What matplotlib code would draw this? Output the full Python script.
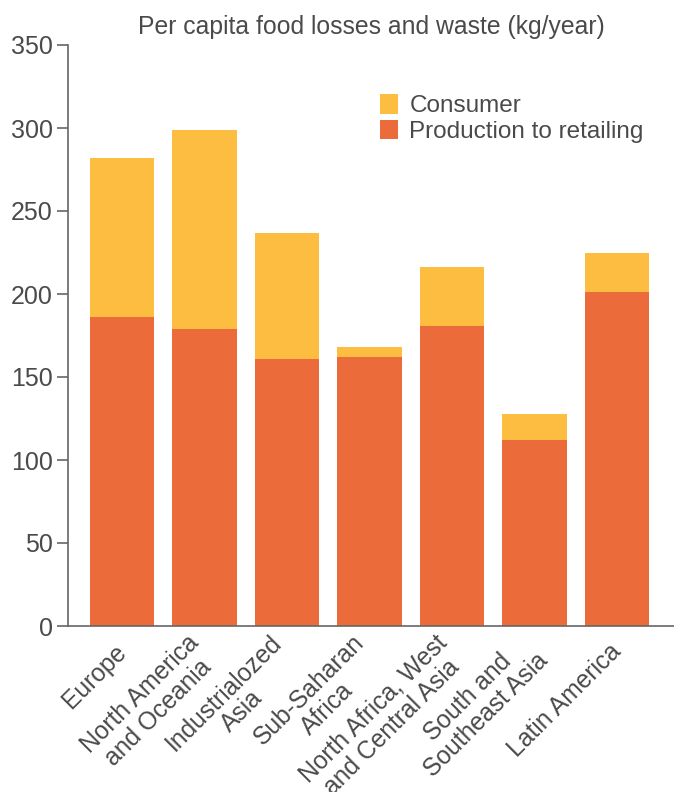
import matplotlib
matplotlib.use("Agg")
import matplotlib.pyplot as plt
import numpy as np

plt.rcParams.update({
    "font.family": ["Liberation Sans", "DejaVu Sans"],
    "axes.spines.right": False,
    "axes.spines.top": False,
})

regions = ["Europe", "North America\nand Oceania", "Industrialozed\nAsia",
           "Sub-Saharan\nAfrica", "North Africa, West\nand Central Asia",
           "South and\nSoutheast Asia", "Latin America"]
production = [186, 179, 161, 162, 181, 112, 201]
consumer = [96, 120, 76, 6, 35, 16, 24]

C_PROD = "#EC6B3B"
C_CONS = "#FDBD40"
C_TEXT = "#4a4a4a"
C_AXIS = "#666666"

fig = plt.figure(figsize=(6.74, 7.92), dpi=100)
ax = fig.add_axes([68 / 674, 166 / 792, 606 / 674, 581 / 792])

x = np.arange(len(regions))
ax.bar(x, production, width=0.78, color=C_PROD, label="Production to retailing")
ax.bar(x, consumer, width=0.78, bottom=production, color=C_CONS, label="Consumer")

ax.set_ylim(0, 350)
ax.set_xlim(-0.655, 6.69)
ax.set_yticks(range(0, 351, 50))
ax.tick_params(axis="y", labelsize=18, colors=C_AXIS, labelcolor=C_TEXT,
               length=8, width=1.2, pad=3)
ax.tick_params(axis="x", length=0, labelsize=17.7, labelcolor=C_TEXT, pad=16)
ax.set_xticks(x)
ax.set_xticklabels(regions, rotation=45, ha="right", va="center",
                   rotation_mode="anchor", linespacing=1.1,
                   multialignment="center")
for s in ("left", "bottom"):
    ax.spines[s].set_color(C_AXIS)
    ax.spines[s].set_linewidth(1.2)

ax.set_title("Per capita food losses and waste (kg/year)", fontsize=17.8,
             color=C_TEXT, pad=8)

h, l = ax.get_legend_handles_labels()
ax.legend(h[::-1], l[::-1], loc="upper left", bbox_to_anchor=(0.515, 0.915),
          frameon=False, fontsize=17.5, labelcolor=C_TEXT, handlelength=0.75,
          handleheight=0.85, handletextpad=0.45, labelspacing=0.1,
          borderaxespad=0, borderpad=0)

fig.savefig("out.png", dpi=100)
